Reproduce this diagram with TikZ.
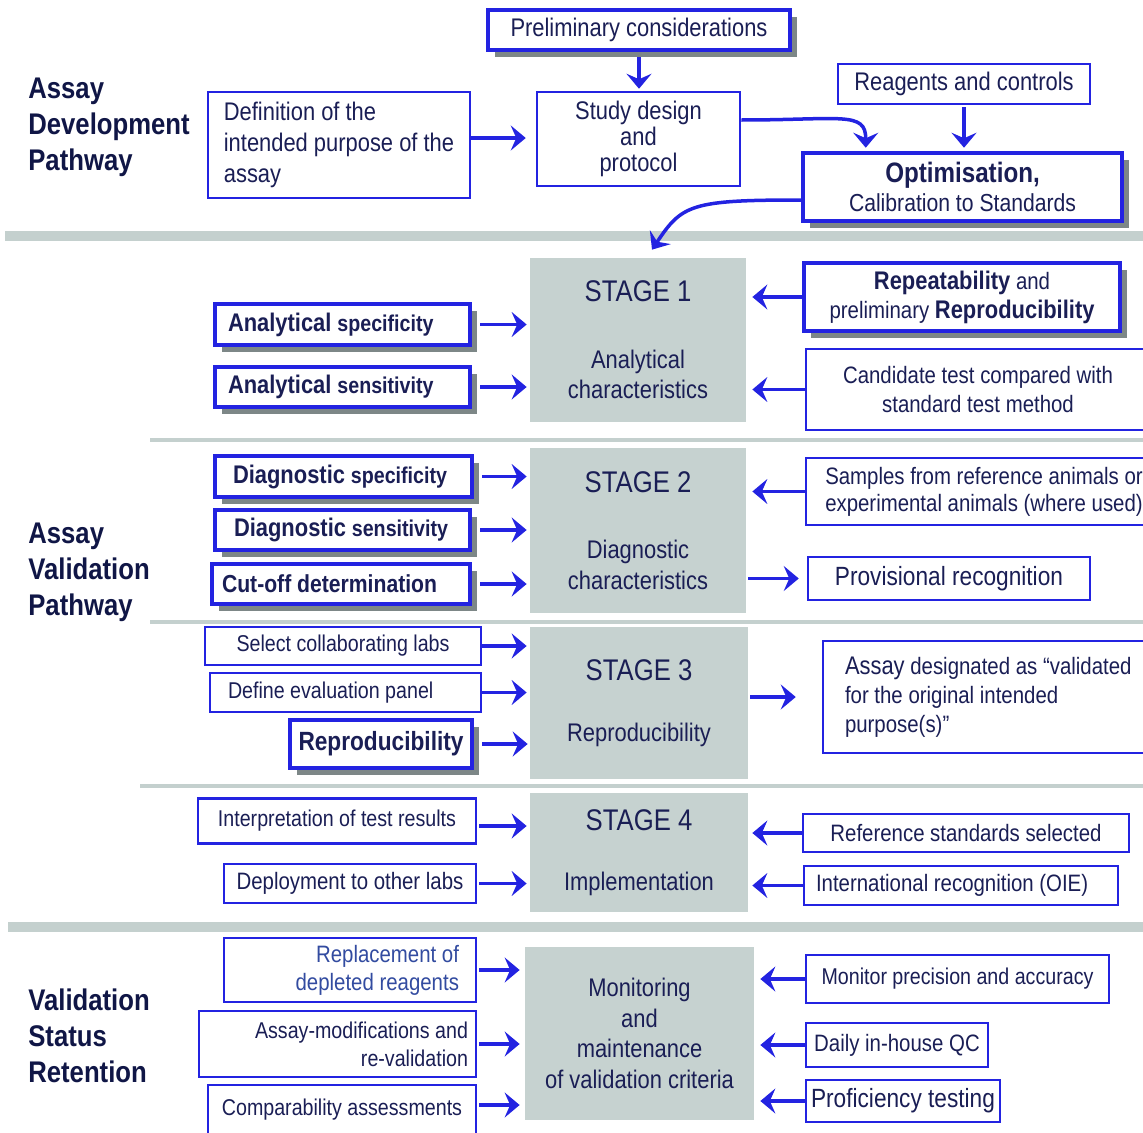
\documentclass[tikz,border=0pt]{standalone}
\usepackage{fontspec}
\setmainfont{Liberation Sans}[FakeStretch=0.86]
\usetikzlibrary{arrows.meta,shadows}

\definecolor{boxblue}{RGB}{35,35,225}
\definecolor{inknavy}{RGB}{26,30,85}
\definecolor{headnavy}{RGB}{16,22,70}
\definecolor{stagegray}{RGB}{198,210,208}
\definecolor{bargray}{RGB}{196,208,206}
\definecolor{shadowgray}{RGB}{125,135,135}
\definecolor{lightink}{RGB}{50,75,160}

\newcommand{\fs}[1]{\fontsize{#1}{1.2\dimexpr#1pt\relax}\selectfont}

\begin{document}
\begin{tikzpicture}[
x=0.2mm, y=-0.2mm,
font=\fs{14},
thinbox/.style={draw=boxblue, line width=0.5mm, fill=white, inner sep=0pt, align=center, text=inknavy},
boldbox/.style={thinbox, line width=0.9mm, drop shadow={shadow xshift=1.4mm, shadow yshift=-1.4mm, fill=shadowgray, opacity=1}},
stagebox/.style={fill=stagegray, inner sep=0pt, align=center, text=inknavy, font=\fs{14.5}},
heading/.style={anchor=west, inner xsep=0pt, align=left, text=headnavy, font=\fontsize{17}{20.5}\selectfont\bfseries},
dims/.style 2 args={minimum width=#1*0.2mm, minimum height=#2*0.2mm},
lefttext/.style 2 args={inner xsep=#1*0.2mm, text width=#2*0.2mm, align=flush left},
arr/.style={-{Stealth[length=3mm, width=5mm, inset=1.1mm]}, draw=boxblue, line width=0.7mm},
sepbar/.style={draw=bargray, line width=2mm},
sepline/.style={draw=bargray, line width=0.75mm},
]
\useasboundingbox (0,0) rectangle (1143,1133);
\clip (0,0) rectangle (1143,1133);

%Separators
\draw[sepbar] (5,236) -- (1143,236);
\draw[sepline] (150,440) -- (1143,440);
\draw[sepline] (150,622) -- (1143,622);
\draw[sepline] (140,786) -- (1143,786);
\draw[sepbar] (8,927) -- (1143,927);

%Headings
\node[heading] (dev_head) at (28,127) {Assay\\Development\\Pathway};
\node[heading] (val_head) at (28,572) {Assay\\Validation\\Pathway};
\node[heading] (ret_head) at (28,1036) {Validation\\Status\\Retention};

%Development nodes
\node[boldbox, dims={302}{40}, font=\fs{14.5}] (prelim) at (639,30) {Preliminary considerations};
\node[thinbox, dims={262}{106}, align=flush left, font=\fontsize{14.5}{17.6}\selectfont] (definition) at (339,145) {Definition of the\\intended purpose of the\\assay};
\node[thinbox, dims={203}{94}, font=\fontsize{14.5}{15}\selectfont] (study) at (638.5,139) {Study design\\and\\protocol};
\node[thinbox, dims={252}{40}, font=\fs{14.5}] (reagents) at (964,84) {Reagents and controls};
\node[boldbox, dims={319}{68}, font=\fontsize{14}{16.5}\selectfont] (optim) at (962.5,187) {{\fs{16}\bfseries Optimisation,}\\Calibration to Standards};

%Stages
\node[stagebox, dims={216}{164}] (stage1) at (638,340) {{\fs{17}STAGE 1}\\[7.2mm]Analytical\\characteristics};
\node[stagebox, dims={216}{165}] (stage2) at (638,530.5) {{\fs{17}STAGE 2}\\[7.2mm]Diagnostic\\characteristics};
\node[stagebox, dims={218}{152}] (stage3) at (639,703) {{\fs{17}STAGE 3}\\[6.2mm]Reproducibility};
\node[stagebox, dims={218}{119}] (stage4) at (639,852.5) {{\fs{17}STAGE 4}\\[6mm]Implementation};
\node[stagebox, dims={229}{173}, font=\fontsize{14.5}{17.4}\selectfont] (monitor) at (639.5,1033.5) {Monitoring\\and\\maintenance\\of validation criteria};

%Stage 1 inputs
\node[boldbox, dims={255}{41}, lefttext={13}{229}] (an_spec) at (342.5,324.5) {\textbf{\fs{14.5}Analytical} {\fs{13}\bfseries specificity}};
\node[boldbox, dims={255}{40}, lefttext={13}{229}] (an_sens) at (342.5,387) {\textbf{\fs{14.5}Analytical} {\fs{13}\bfseries sensitivity}};
\node[boldbox, dims={316}{68}, font=\fontsize{13.5}{16.5}\selectfont] (repeat) at (962,297) {{\fs{14.5}\bfseries Repeatability} and\\preliminary {\fs{14.5}\bfseries Reproducibility}};
\node[thinbox, dims={344}{81}, font=\fontsize{13.5}{16.5}\selectfont] (candidate) at (978,389.5) {Candidate test compared with\\standard test method};

%Stage 2 inputs
\node[boldbox, dims={257}{41}, lefttext={18}{221}] (diag_spec) at (343.5,476.5) {\textbf{\fs{14.5}Diagnostic} {\fs{13}\bfseries specificity}};
\node[boldbox, dims={255}{40}, lefttext={19}{217}] (diag_sens) at (342.5,530) {\textbf{\fs{14.5}Diagnostic} {\fs{13}\bfseries sensitivity}};
\node[boldbox, dims={258}{40}, lefttext={10}{238}, font=\fs{14}\bfseries] (cutoff) at (341,584) {Cut-off determination};
\node[thinbox, dims={356}{67}, align=flush left, font=\fontsize{13.5}{15.5}\selectfont] (samples) at (984,491.5) {Samples from reference animals or\\experimental animals (where used)};
\node[thinbox, dims={282}{43}, font=\fs{15}] (provisional) at (949,578.5) {Provisional recognition};

%Stage 3 inputs
\node[thinbox, dims={276}{38}, font=\fs{13}] (collab) at (343,646) {Select collaborating labs};
\node[thinbox, dims={271}{39}, lefttext={18}{235}, font=\fs{13}] (panel) at (345.5,692.5) {Define evaluation panel};
\node[boldbox, dims={182}{48}, font=\fs{15}\bfseries] (reprod) at (381,744) {Reproducibility};
\node[thinbox, minimum height=112*0.2mm, lefttext={22}{330}, font=\fontsize{13.5}{16.5}\selectfont] (validated) at (1010,697) {{\fs{14.5}Assay} designated as “validated\\for the original intended\\purpose(s)”};

%Stage 4 inputs
\node[thinbox, dims={278}{45}, font=\fs{13}] (interp) at (337,821) {Interpretation of test results};
\node[thinbox, dims={252}{39}, font=\fs{13.5}] (deploy) at (350,883.5) {Deployment to other labs};
\node[thinbox, dims={326}{38}, font=\fs{13.5}] (refstd) at (966,833) {Reference standards selected};
\node[thinbox, dims={314}{39}, lefttext={12}{290}, font=\fs{13.5}] (intl) at (961,885.5) {International recognition (OIE)};

%Retention inputs
\node[thinbox, dims={252}{64}, text width=218*0.2mm, align=flush right, text=lightink, font=\fontsize{13.5}{16}\selectfont] (replace) at (350,970) {Replacement of\\depleted reagents};
\node[thinbox, dims={277}{66}, text width=261*0.2mm, align=flush right, font=\fontsize{13}{16}\selectfont] (modif) at (337.5,1044) {Assay-modifications and\\re-validation};
\node[thinbox, dims={268}{50}, font=\fs{13}] (compar) at (342,1110) {Comparability assessments};
\node[thinbox, dims={303}{48}, font=\fs{13}] (precision) at (957.5,979) {Monitor precision and accuracy};
\node[thinbox, dims={182}{44}, font=\fs{13.5}] (dailyqc) at (897,1045) {Daily in-house QC};
\node[thinbox, dims={194}{42}, font=\fs{15}] (proficiency) at (903,1101) {Proficiency testing};

%Development arrows
\draw[arr, shorten <=1mm, shorten >=0.4mm] (prelim) -- (prelim |- study.north);
\draw[arr, shorten >=2mm] ([yshift=1.4mm]definition.east) -- ([yshift=1.4mm]definition.east -| study.west);
\draw[arr, shorten <=0.4mm, shorten >=0.6mm] (reagents) -- (reagents |- optim.north);
\draw[arr, shorten >=0.6mm] ([yshift=3.8mm]study.east) .. controls +(100,0) and +(0,-40) .. ([xshift=13mm]optim.north west);
\draw[arr] ([yshift=-2.6mm]optim.west) .. controls +(-110,0) and +(30,-45) .. ([xshift=2.8mm, yshift=1.6mm]stage1.north);

%Stage arrows
\draw[arr, shorten <=1.6mm, shorten >=0.6mm] (an_spec) -- (an_spec -| stage1.west);
\draw[arr, shorten <=1.6mm, shorten >=0.6mm] (an_sens) -- (an_sens -| stage1.west);
\draw[arr, shorten >=1.2mm] (repeat) -- (repeat -| stage1.east);
\draw[arr, shorten >=1.2mm] (candidate) -- (candidate -| stage1.east);
\draw[arr, shorten <=1.6mm, shorten >=0.6mm] (diag_spec) -- (diag_spec -| stage2.west);
\draw[arr, shorten <=1.6mm, shorten >=0.6mm] (diag_sens) -- (diag_sens -| stage2.west);
\draw[arr, shorten <=1.6mm, shorten >=0.6mm] (cutoff) -- (cutoff -| stage2.west);
\draw[arr, shorten >=1.2mm] (samples) -- (samples -| stage2.east);
\draw[arr, shorten <=0.4mm, shorten >=1.6mm] (stage2.east |- provisional) -- (provisional);
\draw[arr, shorten >=0.6mm] (collab) -- (collab -| stage3.west);
\draw[arr, shorten >=0.6mm] (panel) -- (panel -| stage3.west);
\draw[arr, shorten <=1.6mm, shorten >=0.4mm] (reprod) -- (reprod -| stage3.west);
\draw[arr, shorten <=0.4mm, shorten >=5.2mm] (stage3.east |- validated) -- (validated);
\draw[arr, shorten <=0.4mm, shorten >=0.6mm] ([yshift=-1mm]interp.east) -- ([yshift=-1mm]interp.east -| stage4.west);
\draw[arr, shorten <=0.4mm, shorten >=0.6mm] (deploy) -- (deploy -| stage4.west);
\draw[arr, shorten >=0.8mm] (refstd) -- (refstd -| stage4.east);
\draw[arr, shorten >=0.8mm] (intl) -- (intl -| stage4.east);
\draw[arr, shorten <=0.4mm, shorten >=1mm] (replace) -- (replace -| monitor.west);
\draw[arr, shorten <=0.4mm, shorten >=1mm] (modif) -- (modif -| monitor.west);
\draw[arr, shorten <=0.4mm, shorten >=1mm] ([yshift=1mm]compar.east) -- ([yshift=1mm]compar.east -| monitor.west);
\draw[arr, shorten >=1.2mm] (precision) -- (precision -| monitor.east);
\draw[arr, shorten >=1.2mm] (dailyqc) -- (dailyqc -| monitor.east);
\draw[arr, shorten >=1.2mm] (proficiency) -- (proficiency -| monitor.east);

\end{tikzpicture}
\end{document}
